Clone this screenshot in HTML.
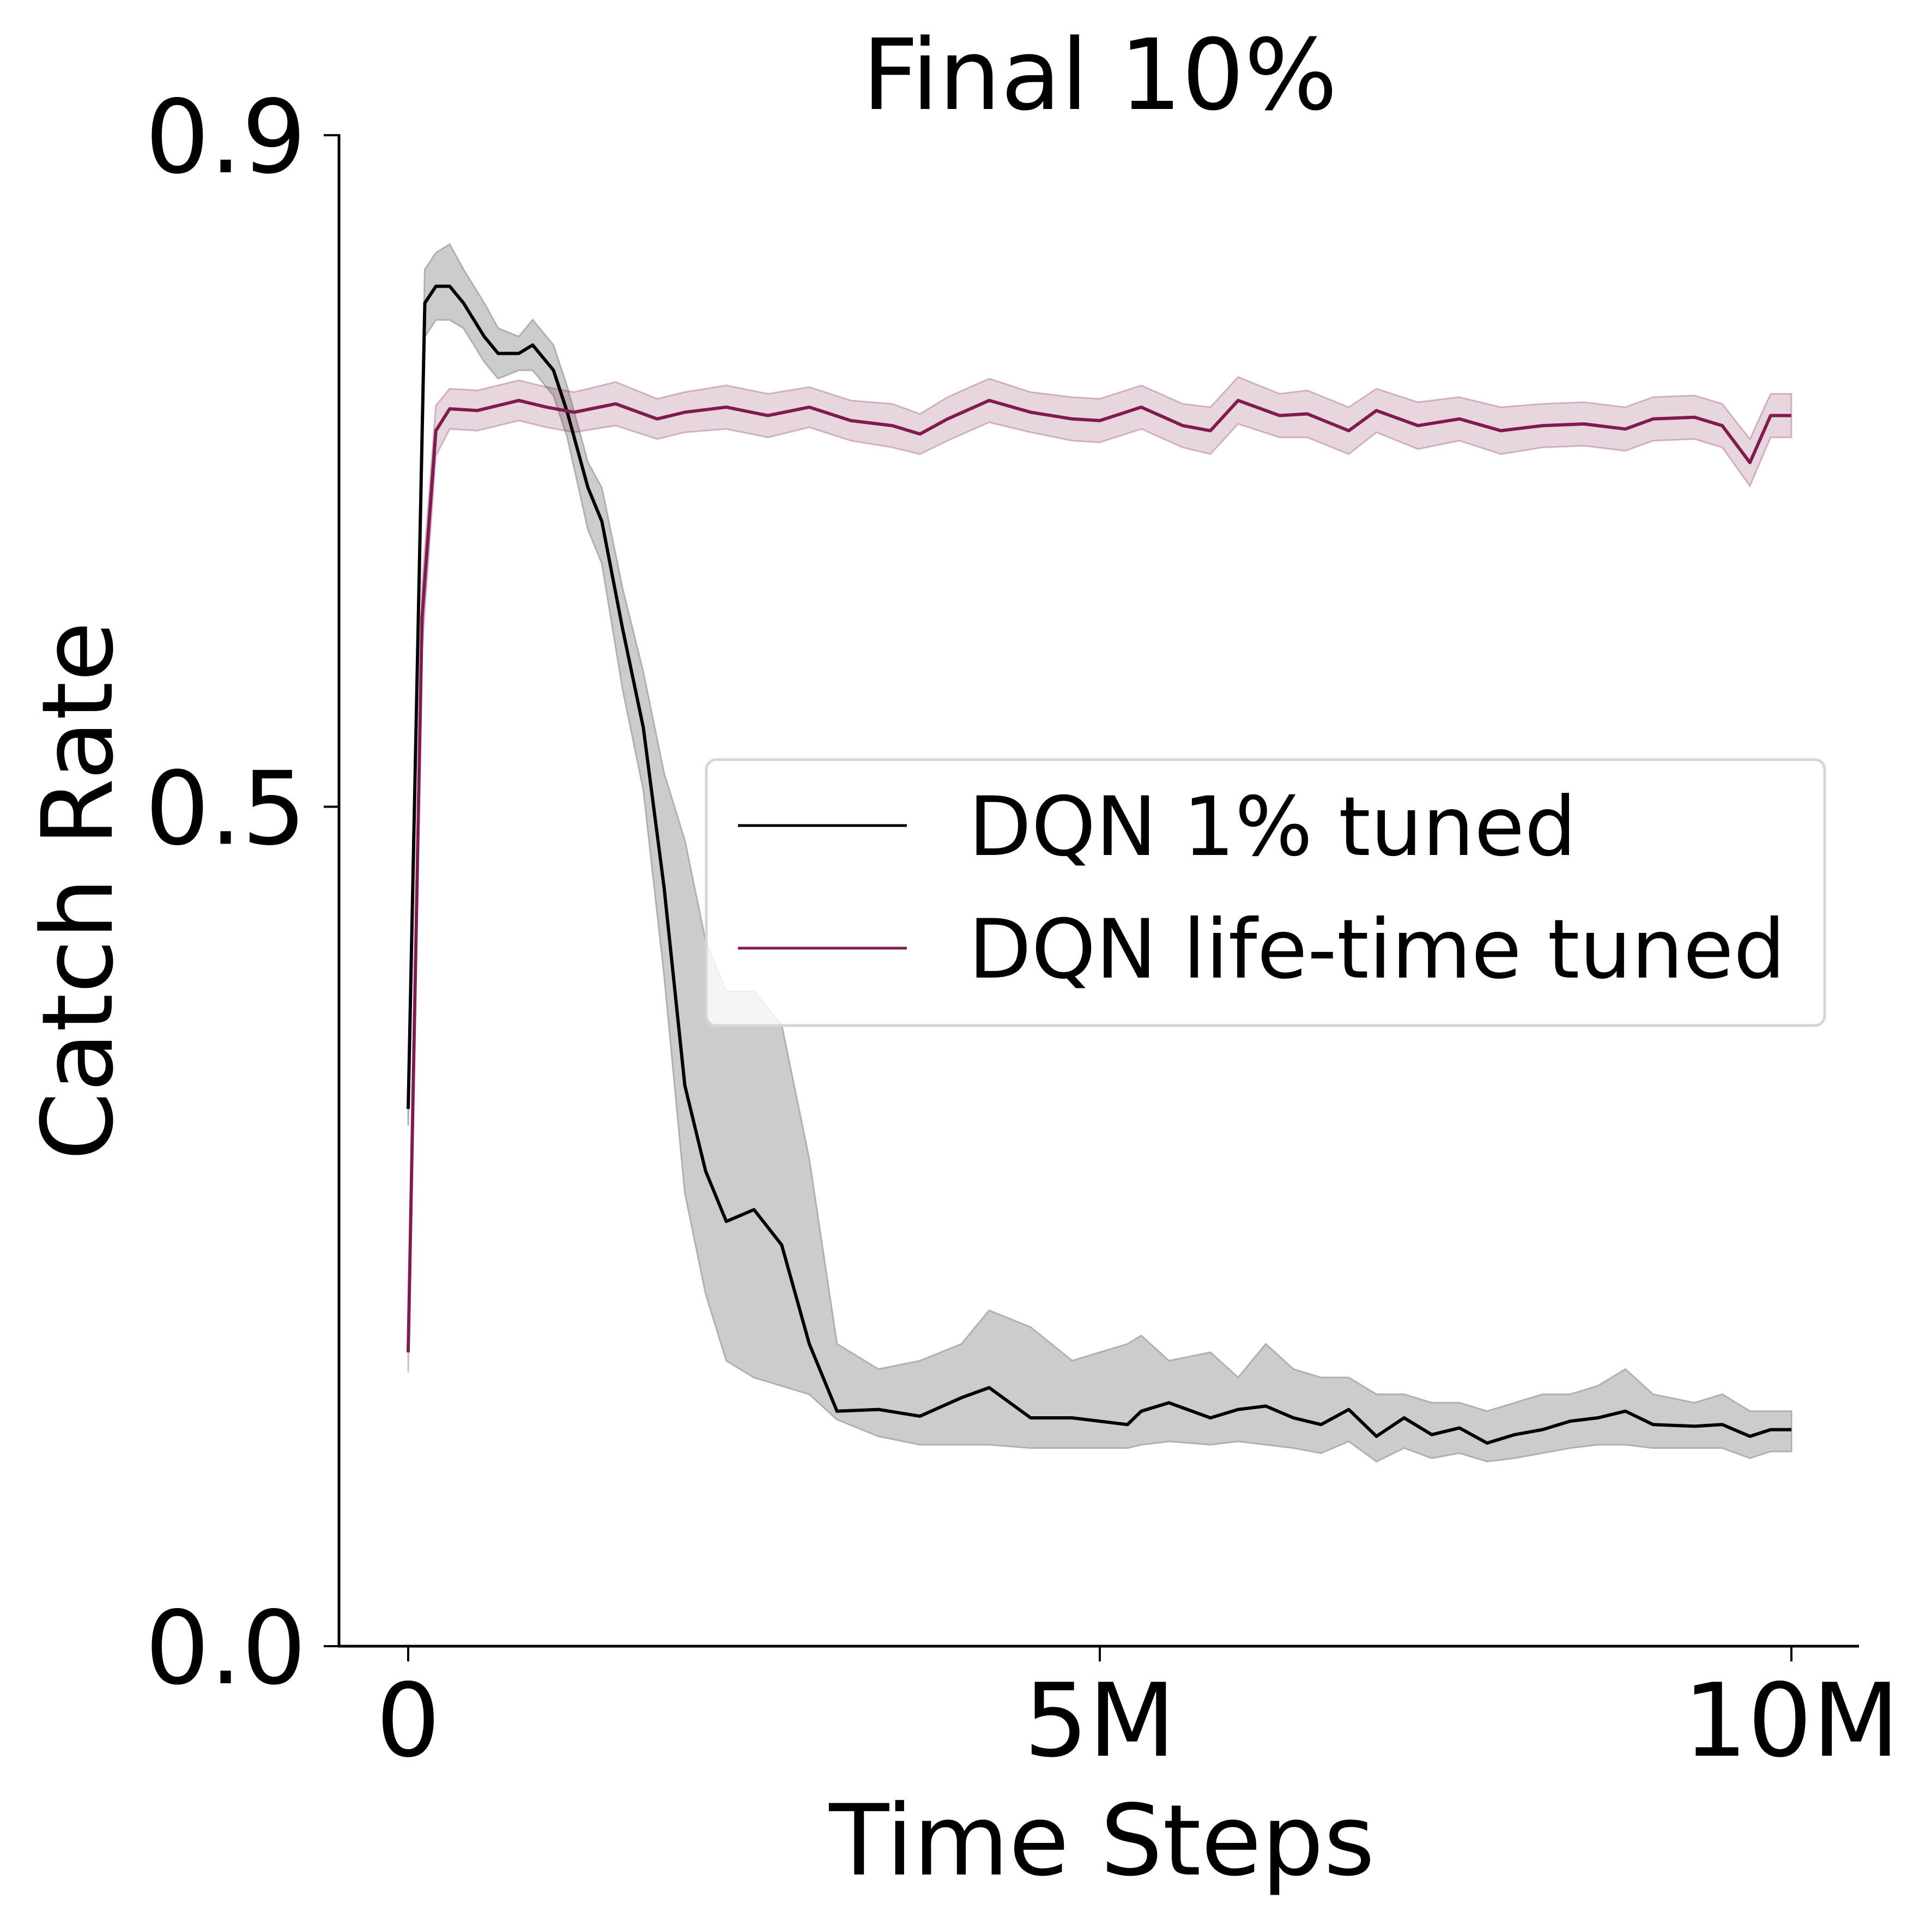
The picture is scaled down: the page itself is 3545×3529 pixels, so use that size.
<!DOCTYPE html>
<html><head><meta charset="utf-8"><style>
html,body{margin:0;padding:0;background:#fff;}
svg{display:block;font-family:"DejaVu Sans","Liberation Sans",sans-serif;}
</style></head><body>
<svg id="chart" width="3545" height="3529" viewBox="0 0 3545 3529" xmlns="http://www.w3.org/2000/svg">
<rect width="3545" height="3529" fill="#fff"/>
<g id="bands"></g><g id="lines"></g><g id="axes"></g>
</svg>
<script>
const blackT = [0,0.12,0.2,0.3,0.4,0.55,0.65,0.8,0.9,1.05,1.15,1.3,1.4,1.55,1.7,1.85,2.0,2.15,2.3,2.5,2.7,2.9,3.1,3.4,3.7,4.0,4.2,4.5,4.8,5.2,5.3,5.5,5.8,6.0,6.2,6.4,6.6,6.8,7.0,7.2,7.4,7.6,7.8,8.0,8.2,8.4,8.6,8.8,9.0,9.3,9.5,9.7,9.85,10];
const blackMean = [0.32,0.80,0.81,0.81,0.80,0.78,0.77,0.77,0.775,0.76,0.735,0.69,0.67,0.606,0.547,0.452,0.334,0.283,0.253,0.26,0.239,0.18,0.14,0.141,0.137,0.148,0.154,0.136,0.136,0.132,0.140,0.145,0.136,0.141,0.143,0.136,0.132,0.141,0.125,0.136,0.126,0.130,0.121,0.126,0.129,0.134,0.136,0.140,0.132,0.131,0.132,0.125,0.129,0.129];
const blackHi = [0.33,0.82,0.83,0.835,0.82,0.80,0.785,0.78,0.79,0.775,0.75,0.705,0.69,0.63,0.58,0.52,0.48,0.42,0.39,0.39,0.37,0.29,0.18,0.165,0.17,0.18,0.20,0.19,0.17,0.18,0.185,0.17,0.175,0.16,0.18,0.165,0.16,0.16,0.15,0.15,0.145,0.145,0.14,0.145,0.15,0.15,0.155,0.165,0.15,0.145,0.15,0.14,0.14,0.14];
const blackLo = [0.31,0.78,0.79,0.79,0.785,0.765,0.755,0.76,0.76,0.745,0.72,0.665,0.645,0.57,0.51,0.40,0.27,0.21,0.17,0.16,0.155,0.15,0.135,0.125,0.12,0.12,0.12,0.118,0.118,0.118,0.12,0.122,0.12,0.122,0.12,0.118,0.115,0.122,0.11,0.118,0.112,0.115,0.11,0.112,0.115,0.118,0.12,0.12,0.118,0.118,0.118,0.112,0.116,0.116];
const purpleT = [0,0.1,0.2,0.3,0.5,0.8,1.0,1.2,1.5,1.8,2.0,2.3,2.6,2.9,3.2,3.5,3.7,3.9,4.2,4.5,4.8,5.0,5.3,5.6,5.8,6.0,6.3,6.5,6.8,7.0,7.3,7.6,7.9,8.2,8.5,8.8,9.0,9.3,9.5,9.7,9.85,10];
const purpleMean = [0.175,0.613,0.724,0.737,0.736,0.742,0.738,0.735,0.74,0.731,0.735,0.738,0.733,0.738,0.730,0.727,0.722,0.731,0.742,0.735,0.731,0.730,0.738,0.727,0.724,0.742,0.733,0.734,0.724,0.736,0.727,0.731,0.724,0.727,0.728,0.725,0.731,0.732,0.727,0.705,0.733,0.733];
const purpleSpread = [0.012,0.02,0.015,0.012,0.012,0.012,0.012,0.012,0.013,0.012,0.012,0.013,0.013,0.012,0.012,0.013,0.012,0.013,0.013,0.012,0.013,0.013,0.013,0.013,0.014,0.014,0.013,0.014,0.014,0.013,0.014,0.013,0.014,0.013,0.013,0.013,0.013,0.013,0.013,0.014,0.013,0.013];
const xTicks = [0,5,10];
const xTickLabels = ["0","5M","10M"];
const yTicks = [0,0.5,0.9];
const yTickLabels = ["0.0","0.5","0.9"];

const NS="http://www.w3.org/2000/svg";
const X0=749, XS=253.8, Y0=3021, YS=3081;
function xs(t){return X0+XS*t;}
function ys(v){return Y0-YS*v;}
function mk(tag,attrs,parent){const e=document.createElementNS(NS,tag);for(const k in attrs)e.setAttribute(k,attrs[k]);parent.appendChild(e);return e;}
const bands=document.getElementById('bands'),lines=document.getElementById('lines'),axes=document.getElementById('axes');

function pts(T,V){return T.map((t,i)=>xs(t).toFixed(1)+','+ys(V[i]).toFixed(1));}
let bp=pts(blackT,blackHi).concat(pts(blackT,blackLo).reverse()).join(' ');
let b1=mk('polygon',{points:bp,fill:'#cccccc',stroke:'#b0b0b0','stroke-width':3},bands);


const pHi=purpleMean.map((m,i)=>m+purpleSpread[i]);
const pLo=purpleMean.map((m,i)=>m-purpleSpread[i]);
let pp=pts(purpleT,pHi).concat(pts(purpleT,pLo).reverse()).join(' ');
let b2=mk('polygon',{points:pp,fill:'rgba(127,27,79,0.18)',stroke:'rgba(127,27,79,0.28)','stroke-width':3},bands);


let l1=mk('polyline',{points:pts(blackT,blackMean).join(' '),fill:'none',stroke:'#000','stroke-width':6,'stroke-linejoin':'round'},lines);


let l2=mk('polyline',{points:pts(purpleT,purpleMean).join(' '),fill:'none',stroke:'#7f1b4f','stroke-width':6,'stroke-linejoin':'round'},lines);



let sy=mk('line',{x1:622,y1:ys(0.9)-2,x2:622,y2:Y0+2,stroke:'#000','stroke-width':5},axes);


let sx=mk('line',{x1:620,y1:Y0,x2:3411,y2:Y0,stroke:'#000','stroke-width':5},axes);


xTicks.forEach((t,i)=>{
  let tk=mk('line',{x1:xs(t),y1:Y0,x2:xs(t),y2:Y0+28,stroke:'#000','stroke-width':4},axes);
  
  
  let tl=mk('text',{x:xs(t),y:3222,'text-anchor':'middle','font-size':186},axes);
  tl.textContent=xTickLabels[i];
  
  
});
yTicks.forEach((v,i)=>{
  let tk=mk('line',{x1:594,y1:ys(v),x2:622,y2:ys(v),stroke:'#000','stroke-width':4},axes);
  
  
  let tl=mk('text',{x:562,y:ys(v)+68,'text-anchor':'end','font-size':186},axes);
  tl.textContent=yTickLabels[i];
  
  
});
let title=mk('text',{x:2018,y:200,'text-anchor':'middle','font-size':180},axes);
title.textContent='Final 10%';


let xl=mk('text',{x:2022,y:3440,'text-anchor':'middle','font-size':180},axes);
xl.textContent='Time Steps';


let yl=mk('text',{x:0,y:0,'text-anchor':'middle','font-size':180,transform:'translate(205,1635) rotate(-90)'},axes);
yl.textContent='Catch Rate';



let lg=mk('g',{},axes);


let lb=mk('rect',{x:1296,y:1394,width:2052,height:488,rx:18,fill:'rgba(255,255,255,0.8)',stroke:'#d6d6d6','stroke-width':5},lg);


const legNames=['DQN 1% tuned','DQN life-time tuned'];
const legColors=['#000','#7f1b4f'];
const legY=[1515,1740];
legNames.forEach((n,i)=>{
  let ln=mk('line',{x1:1354,y1:legY[i],x2:1664,y2:legY[i],stroke:legColors[i],'stroke-width':5},lg);
  
  
  let tx=mk('text',{x:1777,y:legY[i]+54,'font-size':150},lg);
  tx.textContent=n;
  
  
});
</script>
</body></html>
